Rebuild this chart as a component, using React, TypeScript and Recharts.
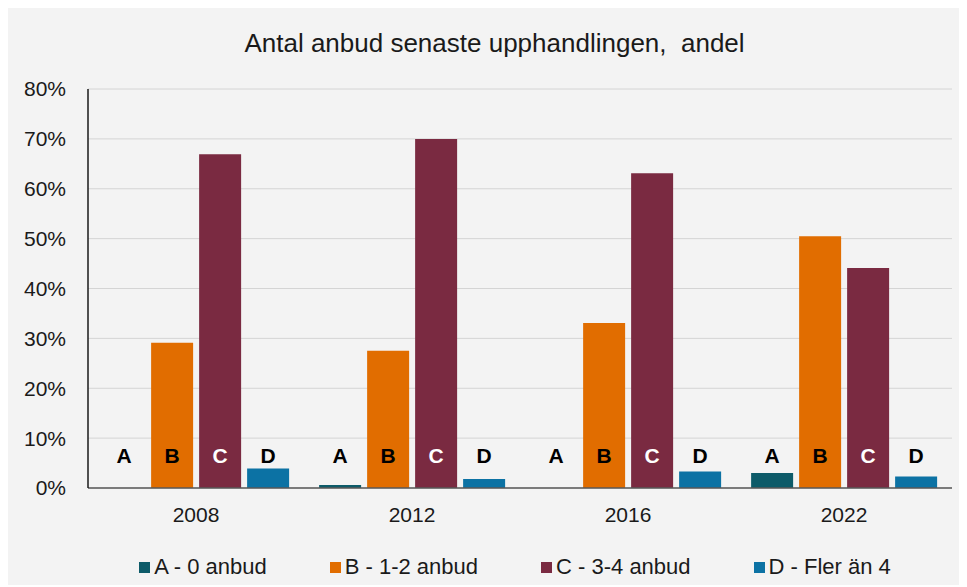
import { BarChart, Bar, XAxis, YAxis, CartesianGrid, Legend, LabelList } from 'recharts';

const years = ['2008', '2012', '2016', '2022'];
const noBids = [0, 0.6, 0, 3.0];
const oneTwoBids = [29.1, 27.5, 33.1, 50.5];
const threeFourBids = [66.9, 70.0, 63.1, 44.1];
const moreThanFour = [3.9, 1.8, 3.3, 2.3];
const yTicks = [0, 10, 20, 30, 40, 50, 60, 70, 80];

const BAR_GAP = 6;

const series = [
  { key: 'a', name: 'A - 0 anbud', letter: 'A', color: '#0d5b69', letterColor: '#000000', values: noBids },
  { key: 'b', name: 'B - 1-2 anbud', letter: 'B', color: '#e16d00', letterColor: '#000000', values: oneTwoBids },
  { key: 'c', name: 'C - 3-4 anbud', letter: 'C', color: '#7a2a41', letterColor: '#ffffff', values: threeFourBids },
  { key: 'd', name: 'D - Fler än 4', letter: 'D', color: '#0c72a4', letterColor: '#000000', values: moreThanFour },
];

const chartData = years.map((year, i) => {
  const row: Record<string, string | number> = { year };
  series.forEach((s) => {
    row[s.key] = s.values[i];
  });
  return row;
});

const FONT = '"Liberation Sans", Arial, sans-serif';

function letterText(key: string, cx: number, bottom: number, letter: string, color: string) {
  return (
    <text
      key={key}
      x={cx}
      y={bottom - 33}
      textAnchor="middle"
      dominantBaseline="central"
      fill={color}
      fontSize={21}
      fontWeight="bold"
      fontFamily={FONT}
    >
      {letter}
    </text>
  );
}

function letterLabel(letter: string, color: string) {
  return (props: any) => {
    const { x, y, width, height } = props;
    return letterText(`${letter}-${x}`, Number(x) + Number(width) / 2, Number(y) + Number(height), letter, color);
  };
}

// A bars are often zero and get no label of their own, so the B bar
// beside them also writes the A letter one slot to the left
function bAndALabel(props: any) {
  const { x, y, width, height } = props;
  const w = Number(width);
  const bottom = Number(y) + Number(height);
  const a = series[0];
  const b = series[1];
  return (
    <g key={`ab-${x}`}>
      {letterText(`a-${x}`, Number(x) - BAR_GAP - w / 2, bottom, a.letter, a.letterColor)}
      {letterText(`b-${x}`, Number(x) + w / 2, bottom, b.letter, b.letterColor)}
    </g>
  );
}

function LegendContent() {
  return (
    <div
      style={{
        display: 'flex',
        justifyContent: 'center',
        gap: 63,
        fontFamily: FONT,
        fontSize: 22,
        color: '#1a1a1a',
        paddingLeft: 50,
        paddingTop: 17,
      }}
    >
      {series.map((s) => (
        <div key={s.key} style={{ display: 'flex', alignItems: 'center' }}>
          <span style={{ display: 'inline-block', width: 11, height: 11, background: s.color, marginRight: 4 }} />
          <span>{s.name}</span>
        </div>
      ))}
    </div>
  );
}

export default function App() {
  return (
    <div style={{ width: 959, height: 577, background: '#f3f3f3', position: 'relative' }}>
      <div
        style={{
          position: 'absolute',
          top: 20,
          left: 7,
          width: 959,
          textAlign: 'center',
          fontFamily: FONT,
          fontSize: 26,
          color: '#1a1a1a',
        }}
      >
        Antal anbud senaste upphandlingen,&nbsp; andel
      </div>
      <BarChart
        width={959}
        height={577}
        data={chartData}
        margin={{ top: 81, right: 15, left: 20, bottom: 2 }}
        barCategoryGap="7%"
        barGap={BAR_GAP}
      >
        <CartesianGrid vertical={false} stroke="#d4d4d4" />
        <XAxis
          dataKey="year"
          tickLine={false}
          axisLine={{ stroke: '#595959', strokeWidth: 1.5 }}
          tick={{ fontSize: 21, fill: '#1a1a1a', fontFamily: FONT }}
          tickMargin={13}
          height={49}
        />
        <YAxis
          domain={[0, 80]}
          ticks={yTicks}
          tickFormatter={(v: number) => `${v}%`}
          tickLine={false}
          axisLine={{ stroke: '#1a1a1a', strokeWidth: 1.5 }}
          tick={{ fontSize: 21, fill: '#1a1a1a', fontFamily: FONT }}
          tickMargin={16}
          width={60}
        />
        <Legend verticalAlign="bottom" height={46} content={<LegendContent />} />
        <Bar dataKey="a" name={series[0].name} fill={series[0].color} isAnimationActive={false} />
        <Bar dataKey="b" name={series[1].name} fill={series[1].color} isAnimationActive={false}>
          <LabelList dataKey="b" content={bAndALabel} />
        </Bar>
        <Bar dataKey="c" name={series[2].name} fill={series[2].color} isAnimationActive={false}>
          <LabelList dataKey="c" content={letterLabel(series[2].letter, series[2].letterColor)} />
        </Bar>
        <Bar dataKey="d" name={series[3].name} fill={series[3].color} isAnimationActive={false}>
          <LabelList dataKey="d" content={letterLabel(series[3].letter, series[3].letterColor)} />
        </Bar>
      </BarChart>
    </div>
  );
}
